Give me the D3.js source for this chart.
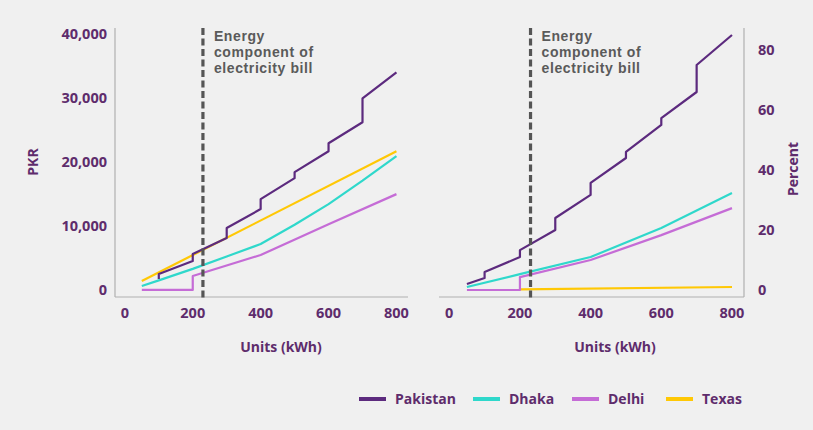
<!DOCTYPE html>
<html>
<head>
<meta charset="utf-8">
<script src="https://cdn.jsdelivr.net/npm/d3@7"></script>
<style>
  body { margin: 0; background: #f0f0f0; }
  svg { display: block; font-family: "Open Sans", sans-serif; }
</style>
</head>
<body>
<svg id="chart" width="813" height="430"></svg>
<script>
// ---- data ----
const seriesNames = ["Pakistan", "Dhaka", "Delhi", "Texas"];
const seriesColors = ["#5c2a7e", "#2fd8cb", "#c56cd6", "#ffc805"];

// bill in PKR, [units, value]
const pkrPakistan = [[100, 1720], [100, 2500], [200, 4530], [200, 5620], [300, 8120], [300, 9690],
  [400, 12660], [400, 14220], [500, 17500], [500, 18440], [600, 21720], [600, 22970],
  [700, 26250], [700, 30000], [800, 34060]];
const pkrDhaka = [[50, 620], [100, 1500], [200, 3300], [300, 5250], [400, 7190], [500, 10200],
  [600, 13440], [700, 17100], [800, 20940]];
const pkrDelhi = [[50, 0], [200, 0], [200, 2190], [400, 5470], [600, 10300], [800, 15000]];
const pkrTexas = [[50, 1400], [800, 21700]];

// percent, [units, value]
const pctPakistan = [[50, 2], [100, 4], [100, 6], [200, 11], [200, 13.3], [300, 20], [300, 24],
  [400, 31.7], [400, 35.7], [500, 44], [500, 46], [600, 55], [600, 57.3], [700, 66], [700, 75], [800, 85]];
const pctDhaka = [[50, 1], [200, 5.3], [400, 11], [600, 20.7], [800, 32.3]];
const pctDelhi = [[50, 0], [200, 0], [200, 4.3], [400, 10], [600, 18.3], [800, 27.3]];
const pctTexas = [[200, 0.2], [800, 1]];

const xTicks = [0, 200, 400, 600, 800];
const pkrTicks = [0, 10000, 20000, 30000, 40000];
const pctTicks = [0, 20, 40, 60, 80];
const markerUnits = 230;
const noteLines = ["Energy", "component of", "electricity bill"];

const labelColor = "#5e2c6c";
const axisColor = "#b0b0b0";
const svg = d3.select("#chart");

function drawPanel(opts) {
  const g = svg.append("g");
  const x = d3.scaleLinear().domain([-29, 834]).range(opts.xRange);
  const y = d3.scaleLinear().domain(opts.yDomain).range([297, 28]);

  // axis lines
  g.append("line")
    .attr("x1", opts.xRange[0]).attr("x2", opts.xRange[1])
    .attr("y1", 297).attr("y2", 297)
    .attr("stroke", axisColor).attr("stroke-width", 1.2);
  const yx = opts.side == "left" ? opts.xRange[0] : opts.xRange[1];
  g.append("line")
    .attr("x1", yx).attr("x2", yx).attr("y1", 28).attr("y2", 297)
    .attr("stroke", axisColor).attr("stroke-width", 1.2);

  // x tick labels
  g.selectAll(".xt").data(xTicks).join("text")
    .attr("x", d => x(d)).attr("y", 318)
    .attr("text-anchor", "middle")
    .style("font-size", "14.5px").style("font-weight", 700)
    .style("fill", labelColor)
    .text(d => d);

  // y tick labels
  g.selectAll(".yt").data(opts.yTicks).join("text")
    .attr("x", opts.side == "left" ? 107 : 758)
    .attr("y", d => y(d) + 5)
    .attr("text-anchor", opts.side == "left" ? "end" : "start")
    .style("font-size", "14.5px").style("font-weight", 700)
    .style("fill", labelColor)
    .text(d => opts.yFormat(d));

  g.append("text")
    .attr("x", opts.xTitleX).attr("y", 352)
    .attr("text-anchor", "middle")
    .style("font-size", "14px").style("font-weight", 700)
    .style("fill", labelColor)
    .text("Units (kWh)");

  g.append("text")
    .attr("transform", `translate(${opts.yTitleX}, ${opts.yTitleY}) rotate(-90)`)
    .attr("text-anchor", "middle")
    .style("font-size", "14px").style("font-weight", 700)
    .style("fill", labelColor)
    .text(opts.yTitle);

  const line = d3.line().x(d => x(d[0])).y(d => y(d[1]));
  // draw Texas first so Pakistan sits on top
  opts.series.map((s, i) => [s, i]).reverse().forEach(([s, i]) => {
    g.append("path")
      .datum(s)
      .attr("d", line)
      .attr("fill", "none")
      .attr("stroke", seriesColors[i])
      .attr("stroke-width", 2.2)
      .attr("stroke-linejoin", "round");
  });

  // dashed marker
  g.append("line")
    .attr("x1", x(markerUnits)).attr("x2", x(markerUnits))
    .attr("y1", 28).attr("y2", 298)
    .attr("stroke", "#555").attr("stroke-width", 3.2)
    .attr("stroke-dasharray", "7,3.5");

  g.selectAll(".note").data(noteLines).join("text")
    .attr("x", x(markerUnits) + 11)
    .attr("y", (d, i) => 41 + i * 16)
    .style("font-family", "'Liberation Sans', Arial, sans-serif")
    .style("font-size", "14px").style("font-weight", 700)
    .style("letter-spacing", "0.6px")
    .style("fill", "#5a5a5a")
    .text(d => d);
}

drawPanel({
  xRange: [115, 408], side: "left",
  yDomain: [-1100, 41000], yTicks: pkrTicks,
  yFormat: d3.format(","),
  series: [pkrPakistan, pkrDhaka, pkrDelhi, pkrTexas],
  xTitleX: 281, yTitle: "PKR", yTitleX: 38, yTitleY: 162
});

drawPanel({
  xRange: [439, 744], side: "right",
  yDomain: [-2.33, 87.33], yTicks: pctTicks,
  yFormat: d => d,
  series: [pctPakistan, pctDhaka, pctDelhi, pctTexas],
  xTitleX: 615, yTitle: "Percent", yTitleX: 798, yTitleY: 169
});

// legend
const legendX = [359, 473, 572, 666];
const legend = svg.append("g");
seriesNames.forEach((name, i) => {
  legend.append("line")
    .attr("x1", legendX[i]).attr("x2", legendX[i] + 27)
    .attr("y1", 399).attr("y2", 399)
    .attr("stroke", seriesColors[i]).attr("stroke-width", 4);
  legend.append("text")
    .attr("x", legendX[i] + 36).attr("y", 404)
    .style("font-size", "14px").style("font-weight", 700)
    .style("fill", labelColor)
    .text(name);
});
</script>
</body>
</html>
